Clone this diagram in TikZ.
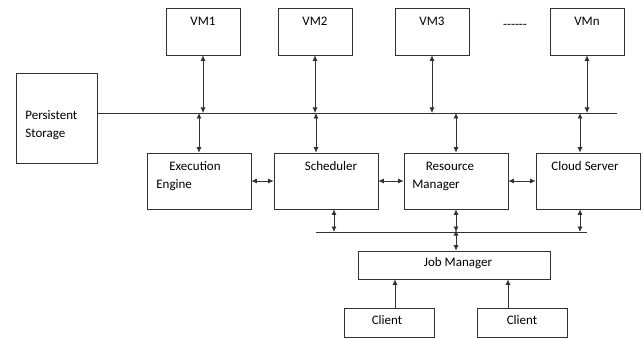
\documentclass[tikz,border=0pt]{standalone}
\usepackage{fontspec}
\setmainfont{Carlito}
\usetikzlibrary{positioning,shapes,arrows.meta}

\begin{document}
\begin{tikzpicture}[x=1pt, y=-1pt, >={Latex[length=5.5pt,width=5pt]},
	font=\fontsize{13}{15}\selectfont, line width=0.7pt, draw=black!80,
	box/.style = {draw=black!80, rectangle, inner sep=0pt},
	vm/.style = {box, minimum width=74pt, minimum height=47pt},
	mid/.style = {box, minimum width=104pt, minimum height=56pt},
	cl/.style = {box, minimum width=90pt, minimum height=29pt},
	txt/.style = {inner sep=0pt, anchor=mid, yshift=-2pt}]
	\useasboundingbox (0,0) rectangle (644,339);

	% VMs
	\node[vm] (VM1) at (203,31.5) {};
	\node[vm] (VM2) at (315,31.5) {};
	\node[vm] (VM3) at (432,31.5) {};
	\node[vm] (VMn) at (587,31.5) {};
	\node[txt] (tVM1) at (203,21) {VM1};
	\node[txt] (tVM2) at (315,21) {VM2};
	\node[txt] (tVM3) at (432,21) {VM3};
	\node[txt] (tVMn) at (587,21) {VMn};
	\node[txt] (dots) at (515,24) {-{}-{}-{}-{}-{}-};

	% storage
	\node[box, minimum width=81pt, minimum height=90pt] (PS) at (56.5,118) {};
	\node[txt, anchor=mid west] (tPS1) at (25,115) {Persistent};
	\node[txt, anchor=mid west] (tPS2) at (25,133) {Storage};

	% middle row
	\node[mid] (EE) at (199,181) {};
	\node[mid] (SC) at (326,181) {};
	\node[mid] (RM) at (456,181) {};
	\node[mid] (CS) at (588,181) {};
	\node[txt] (tEE1) at (195,166) {Execution};
	\node[txt, anchor=mid west] (tEE2) at (156,184) {Engine};
	\node[txt] (tSC) at (331,166) {Scheduler};
	\node[txt] (tRM1) at (450,166) {Resource};
	\node[txt, anchor=mid west] (tRM2) at (412,184) {Manager};
	\node[txt] (tCS) at (585,166) {Cloud Server};

	% job manager and clients
	\node[box, minimum width=192pt, minimum height=28pt] (JM) at (454,265) {};
	\node[txt] (tJM) at (458,262) {Job Manager};
	\node[cl] (C1) at (389,322.5) {};
	\node[cl] (C2) at (522,322.5) {};
	\node[txt] (tC1) at (387,320) {Client};
	\node[txt] (tC2) at (522,320) {Client};

	% buses
	\coordinate (B1w) at (PS.east |- 0,113);
	\coordinate (B1e) at (617,113);
	\coordinate (B2w) at (316,232);
	\coordinate (B2e) at (587,232);
	\draw (B1w) -- (B1e);
	\draw (B2w) -- (B2e);

	% arrows to upper bus
	\draw[<->] (VM1.south) -- (VM1.south |- B1w);
	\draw[<->] (VM2.south) -- (VM2.south |- B1w);
	\draw[<->] (VM3.south) -- (VM3.south |- B1w);
	\draw[<->] (VMn.south) -- (VMn.south |- B1w);
	\draw[<->] (EE.north |- B1w) -- (EE.north);
	\draw[<->] ([xshift=-10pt]SC.north |- B1w) -- ([xshift=-10pt]SC.north);
	\draw[<->] (RM.north |- B1w) -- (RM.north);
	\draw[<->] ([xshift=-8pt]CS.north |- B1w) -- ([xshift=-8pt]CS.north);

	% between boxes
	\draw[<->] (EE.east) -- (SC.west);
	\draw[<->] (SC.east) -- (RM.west);
	\draw[<->] (RM.east) -- (CS.west);

	% lower bus
	\draw[<->] ([xshift=8pt]SC.south) -- ([xshift=8pt]SC.south |- B2w);
	\draw[<->] (RM.south) -- (RM.south |- B2w);
	\draw[<->] ([xshift=-8pt]CS.south) -- ([xshift=-8pt]CS.south |- B2w);
	\draw[<->] ([yshift=2pt]RM.south |- B2w) -- (RM.south |- JM.north);

	% clients
	\draw[->] ([xshift=6pt]C1.north) -- ([xshift=6pt]C1.north |- JM.south);
	\draw[->] ([xshift=-14pt]C2.north) -- ([xshift=-14pt]C2.north |- JM.south);
\end{tikzpicture}
\end{document}
